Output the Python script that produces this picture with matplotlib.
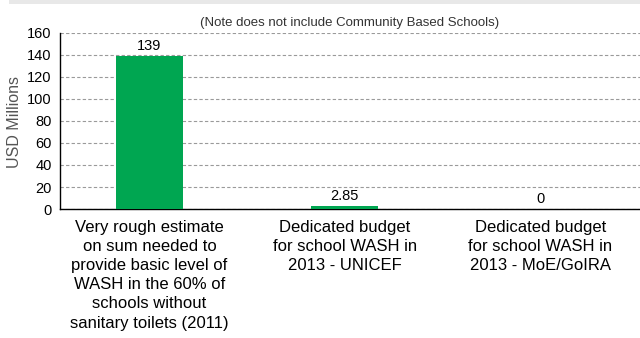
import matplotlib
matplotlib.use("Agg")
import matplotlib.pyplot as plt
from matplotlib.patches import Rectangle

categories = [
    "Very rough estimate\non sum needed to\nprovide basic level of\nWASH in the 60% of\nschools without\nsanitary toilets (2011)",
    "Dedicated budget\nfor school WASH in\n2013 - UNICEF",
    "Dedicated budget\nfor school WASH in\n2013 - MoE/GoIRA",
]
values = [139, 2.85, 0]
value_labels = ["139", "2.85", "0"]
yticks = [0, 20, 40, 60, 80, 100, 120, 140, 160]
note = "(Note does not include Community Based Schools)"
ylabel = "USD Millions"

plt.rcParams['font.family'] = ['Liberation Sans', 'DejaVu Sans']

fig = plt.figure(figsize=(6.4, 3.38), dpi=100)
fig.patch.set_facecolor('white')
fig.patches.append(Rectangle((9/640, 1-4/338), 1-9/640, 4/338, transform=fig.transFigure,
                             facecolor='#e8e8e8', edgecolor='none'))

ax = fig.add_axes([60/640, 1-209/338, 1-60/640, (209-33)/338])
x = list(range(len(values)))
ax.bar(x, values, width=0.343, color='#00a651', zorder=3)
ax.set_xlim(-0.458, 2.51)
ax.set_ylim(0, 160)
ax.set_yticks(yticks)
ax.set_yticklabels([str(v) for v in yticks], fontsize=10.5)
ax.yaxis.grid(True, linestyle=(0, (3, 2)), color='#9a9a9a', linewidth=0.8, zorder=0)
ax.set_axisbelow(True)
ax.set_xticks(x)
ax.set_xticklabels(categories, fontsize=12, linespacing=1.34)
ax.tick_params(axis='both', length=0)
ax.tick_params(axis='x', pad=8)
ax.tick_params(axis='y', pad=6)
for s in ['top', 'right']:
    ax.spines[s].set_visible(False)
for s in ['left', 'bottom']:
    ax.spines[s].set_color('black')
    ax.spines[s].set_linewidth(1.0)

for xi, v, lab in zip(x, values, value_labels):
    ax.annotate(lab, (xi, v), xytext=(0, 2), textcoords='offset points',
                ha='center', va='bottom', fontsize=10.5)

fig.text(15/640, 1-122/338, ylabel, rotation=90, ha='center', va='center',
         fontsize=11.5, color='#555555')
fig.text(350/640, 1-23/338, note, ha='center', va='center', fontsize=9.5, color='#333333')

fig.savefig("out.png", dpi=100)
